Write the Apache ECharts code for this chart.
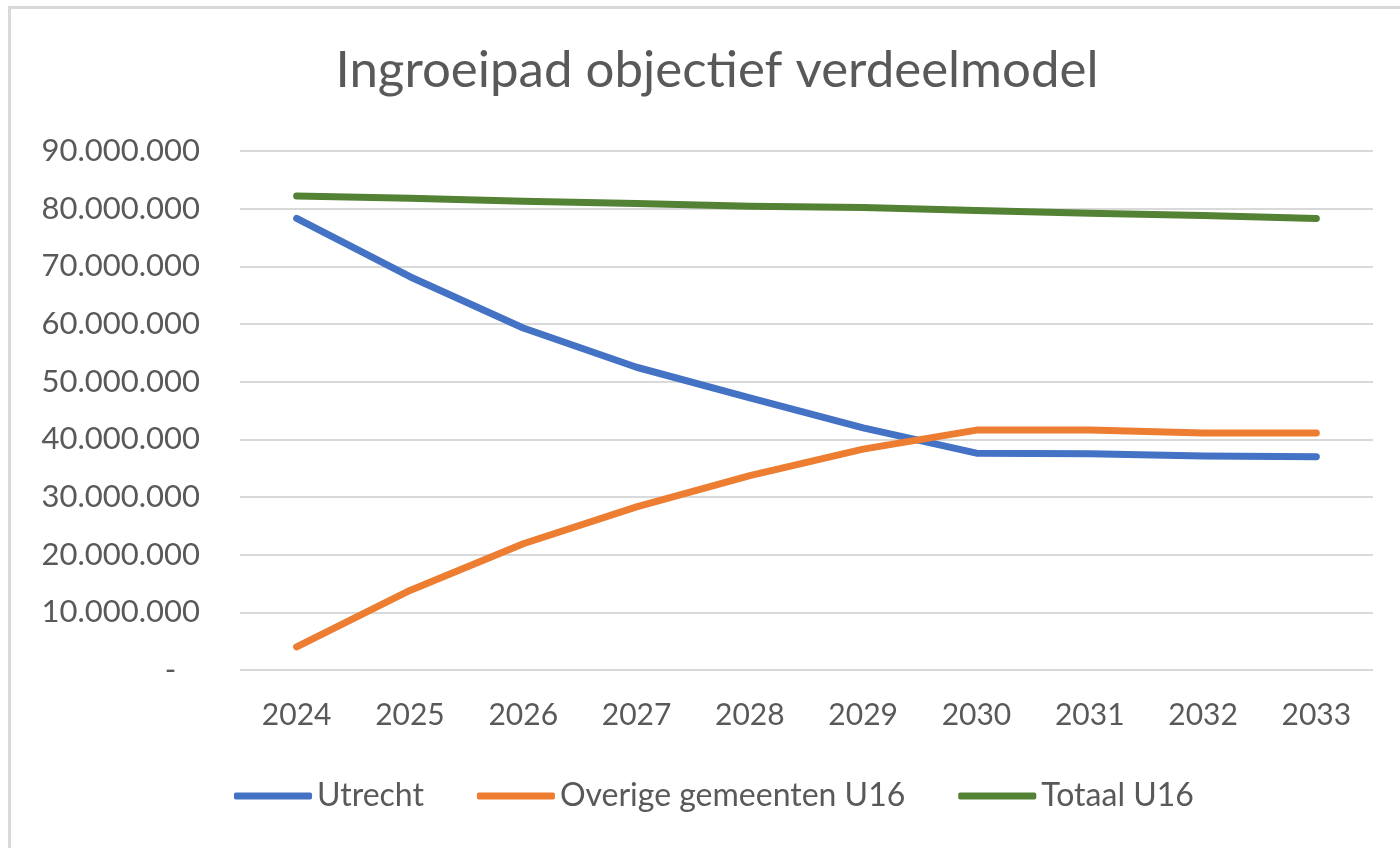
<!DOCTYPE html>
<html>
<head>
<meta charset="utf-8">
<script src="https://cdn.jsdelivr.net/npm/echarts@6/dist/echarts.min.js"></script>
<style>
  html, body { margin: 0; padding: 0; background: #fff; }
  #chart { width: 1400px; height: 848px; }
</style>
</head>
<body>
<div id="chart"></div>
<script>
  // jaren en bedragen
  const years = ['2024', '2025', '2026', '2027', '2028', '2029', '2030', '2031', '2032', '2033'];
  const utrecht = [78300000, 68200000, 59300000, 52500000, 47200000, 42000000, 37600000, 37500000, 37100000, 37000000];
  const overige = [4000000, 13800000, 21900000, 28300000, 33700000, 38300000, 41600000, 41600000, 41100000, 41100000];
  const totaal = [82200000, 81800000, 81300000, 80900000, 80400000, 80200000, 79700000, 79200000, 78800000, 78300000];

  const font = 'Lato, "Open Sans", sans-serif';
  const textColor = '#595959';

  const chart = echarts.init(document.getElementById('chart'));

  function fmt(v) {
    if (v === 0) return '-   ';
    return String(v).replace(/\B(?=(\d{3})+(?!\d))/g, '.');
  }

  function lineSeries(name, data, color) {
    return {
      name: name,
      type: 'line',
      data: data,
      showSymbol: false,
      symbol: 'none',
      lineStyle: { color: color, width: 7, cap: 'round', join: 'round' },
      itemStyle: { color: color },
    };
  }

  chart.setOption({
    animation: false,
    textStyle: { fontFamily: font },
    graphic: [
      {
        type: 'rect',
        shape: { x: 9.5, y: 7.5, width: 1500, height: 900 },
        style: { fill: 'none', stroke: '#d9d9d9', lineWidth: 3 },
        silent: true,
      },
    ],
    title: {
      text: 'Ingroeipad objectief verdeelmodel',
      left: 712,
      top: 40,
      textAlign: 'center',
      textStyle: { fontFamily: font, fontSize: 51, fontWeight: 'normal', color: textColor },
    },
    legend: {
      left: 229,
      top: 775,
      itemWidth: 78,
      itemHeight: 7,
      itemGap: 53,
      icon: 'roundRect',
      textStyle: { fontFamily: font, fontSize: 32, color: textColor },
      data: ['Utrecht', 'Overige gemeenten U16', 'Totaal U16'],
    },
    grid: { left: 240, right: 27, top: 151, bottom: 178, containLabel: false },
    xAxis: {
      type: 'category',
      data: years,
      boundaryGap: true,
      axisLine: { show: false },
      axisTick: { show: false },
      axisLabel: { fontFamily: font, fontSize: 30, color: textColor, margin: 30 },
    },
    yAxis: {
      type: 'value',
      min: 0,
      max: 90000000,
      interval: 10000000,
      axisLine: { show: false },
      axisTick: { show: false },
      splitLine: { lineStyle: { color: '#d9d9d9', width: 2 } },
      axisLabel: { fontFamily: font, fontSize: 31, color: textColor, margin: 40, formatter: fmt },
    },
    series: [
      lineSeries('Utrecht', utrecht, '#4472C4'),
      lineSeries('Overige gemeenten U16', overige, '#ED7D31'),
      lineSeries('Totaal U16', totaal, '#548235'),
    ],
  });
</script>
</body>
</html>
